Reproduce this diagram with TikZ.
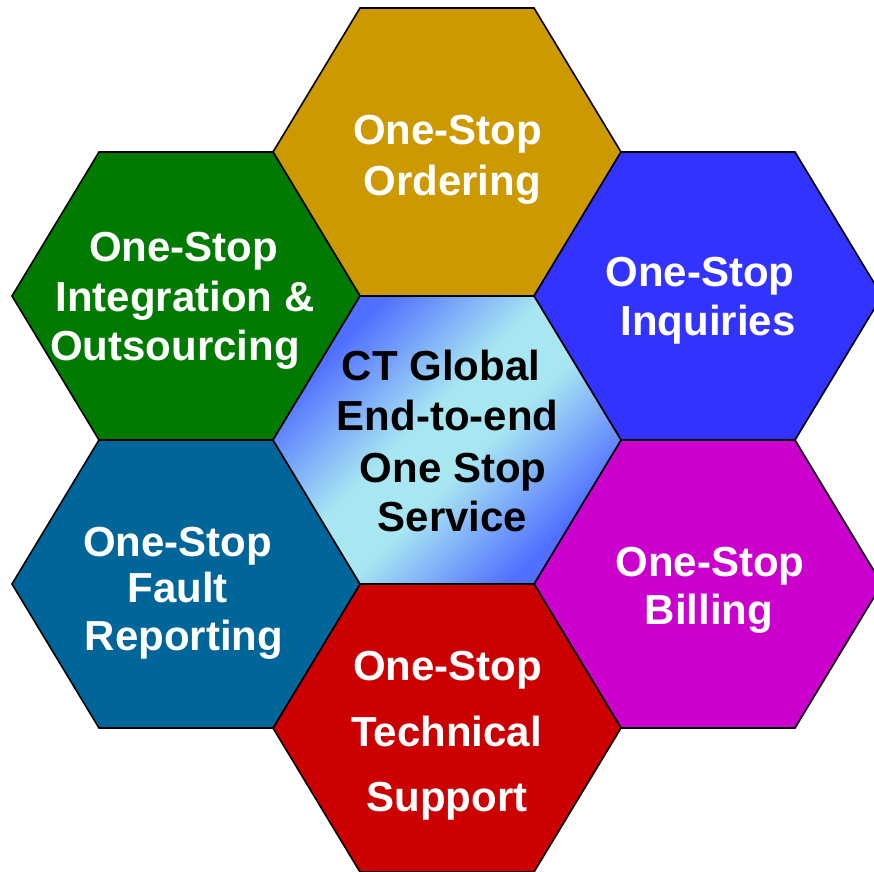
\documentclass[tikz,border=0pt]{standalone}
\usepackage{fontspec}
\setmainfont{Liberation Sans}
\definecolor{cgold}{HTML}{CC9900}
\definecolor{cblueh}{HTML}{3333FF}
\definecolor{cmag}{HTML}{CC00CC}
\definecolor{cred}{HTML}{CC0000}
\definecolor{cteal}{HTML}{006699}
\definecolor{cgreen}{HTML}{007A00}
\definecolor{shblue}{RGB}{80,110,255}
\definecolor{shcyan}{RGB}{168,230,242}
\pgfdeclarehorizontalshading{hexshade}{100bp}{color(0bp)=(shblue); color(27bp)=(shblue); color(45bp)=(shcyan); color(55bp)=(shcyan); color(73bp)=(shblue); color(100bp)=(shblue)}
\begin{document}
\begin{tikzpicture}[x=1pt,y=-1pt,
  hexa/.style={draw=black, line width=1.6pt, line join=miter},
  lbl/.style={text=white, font=\fontsize{42}{42}\selectfont\bfseries, anchor=base, inner sep=0pt},
  clbl/.style={lbl, text=black}]
\useasboundingbox (0,0) rectangle (874,871);
\coordinate (cC) at (447,440);
\coordinate (cT) at (447,152);
\coordinate (cUR) at (708,296);
\coordinate (cLR) at (708,584);
\coordinate (cB) at (447,728);
\coordinate (cLL) at (186,584);
\coordinate (cUL) at (186,296);
\newcommand\hexpath[1]{(#1) ++(-174,0) -- ++(87,-144) -- ++(174,0) -- ++(87,144) -- ++(-87,144) -- ++(-174,0) -- cycle}
% outer hexagons
\path[hexa, fill=cgold] \hexpath{cT};
\path[hexa, fill=cblueh] \hexpath{cUR};
\path[hexa, fill=cmag] \hexpath{cLR};
\path[hexa, fill=cred] \hexpath{cB};
\path[hexa, fill=cteal] \hexpath{cLL};
\path[hexa, fill=cgreen] \hexpath{cUL};
% centre hexagon
\path[hexa, shading=hexshade, shading angle=-45] \hexpath{cC};
% labels
\node[lbl] (t1) at (447.5,144) {One-Stop};
\node[lbl] (t2) at (452,195) {Ordering};
\node[lbl] (ur1) at (700,286.7) {One-Stop};
\node[lbl] (ur2) at (708,335) {Inquiries};
\node[lbl] (lr1) at (710,576.7) {One-Stop};
\node[lbl] (lr2) at (709,624) {Billing};
\node[lbl] (b1) at (447.5,680) {One-Stop};
\node[lbl] (b2) at (446.5,746.7) {Technical};
\node[lbl] (b3) at (447,811.7) {Support};
\node[lbl] (ll1) at (177.5,556.7) {One-Stop};
\node[lbl] (ll2) at (177.5,602.5) {Fault};
\node[lbl] (ll3) at (184,650) {Reporting};
\node[lbl] (ul1) at (183.5,261.7) {One-Stop};
\node[lbl] (ul2) at (185,311.7) {Integration \&};
\node[lbl] (ul3) at (175,360) {Outsourcing};
\node[clbl] (c1) at (441,380) {CT Global};
\node[clbl] (c2) at (447.5,430) {End-to-end};
\node[clbl] (c3) at (453,482) {One Stop};
\node[clbl] (c4) at (452.5,531.7) {Service};
\end{tikzpicture}
\end{document}
